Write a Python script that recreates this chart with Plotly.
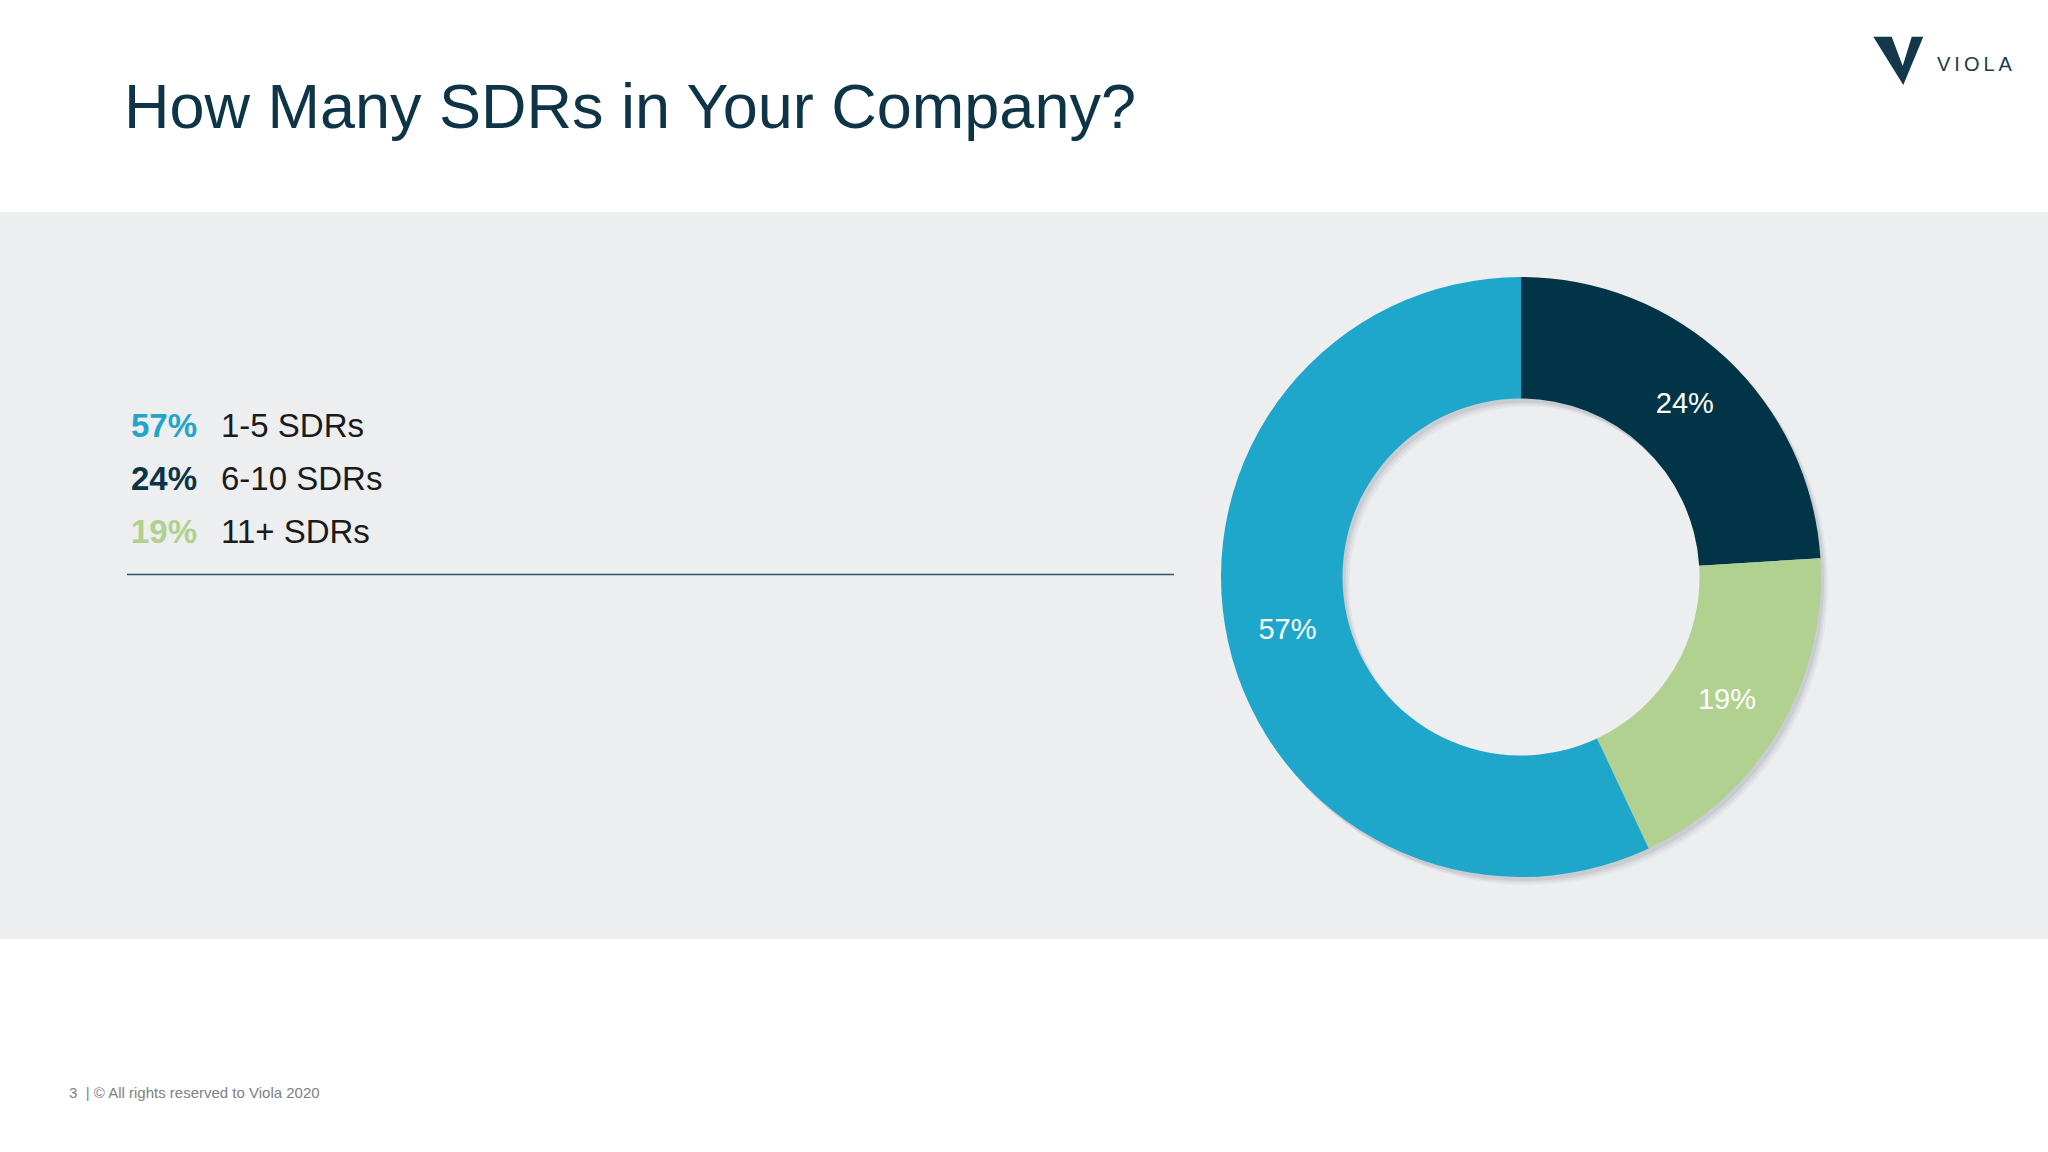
import plotly.graph_objects as go

# ---- data ----
categories = ["1-5 SDRs", "6-10 SDRs", "11+ SDRs"]
shares = [57, 24, 19]
pct_labels = ["57%", "24%", "19%"]
slice_colors = ["#1EA7CA", "#023448", "#B0D190"]
legend_pct_colors = ["#23A5C9", "#0B3447", "#AFD08E"]

title_text = "How Many SDRs in Your Company?"
footer_text = "3  | \u00a9 All rights reserved to Viola 2020"

W, H = 2048, 1152


def px(x):
    return x / W


def py(y):
    return 1 - y / H


FONT = "Liberation Sans, Arial, sans-serif"

fig = go.Figure()

# donut geometry (pixels)
cx, cy, R = 1521, 577, 300
hole = 0.595

# soft drop shadow layers
for dx, dy, a in [(7, 8, 0.045), (5, 6, 0.06), (3, 4, 0.08)]:
    fig.add_trace(go.Pie(
        values=[1], labels=["shadow"], hole=hole, sort=False,
        marker=dict(colors=[f"rgba(40,50,60,{a})"], line=dict(width=0)),
        textinfo="none", hoverinfo="skip", showlegend=False,
        domain=dict(x=[px(cx - R + dx), px(cx + R + dx)],
                    y=[py(cy + R + dy), py(cy - R + dy)]),
    ))

# order clockwise from 12 o'clock: 24%, 19%, 57%
order = [1, 2, 0]
fig.add_trace(go.Pie(
    labels=[categories[i] for i in order],
    values=[shares[i] for i in order],
    text=[pct_labels[i] for i in order],
    textinfo="text",
    textposition="inside",
    insidetextorientation="horizontal",
    textfont=dict(family=FONT, size=29, color="white"),
    marker=dict(colors=[slice_colors[i] for i in order], line=dict(width=0)),
    hole=hole, sort=False, direction="clockwise", rotation=0,
    showlegend=False, hoverinfo="label+percent",
    domain=dict(x=[px(cx - R), px(cx + R)], y=[py(cy + R), py(cy - R)]),
))

shapes = [
    # gray band
    dict(type="rect", xref="paper", yref="paper", x0=0, x1=1,
         y0=py(939), y1=py(212), fillcolor="#ECEEF0", line=dict(width=0),
         layer="below"),
    # divider line
    dict(type="line", xref="paper", yref="paper", x0=px(127), x1=px(1174),
         y0=py(574.5), y1=py(574.5), line=dict(color="#2F5568", width=1.5)),
]

# V logo
vpts = [(1873.3, 36.7), (1891.7, 36.7), (1902.7, 66), (1911.7, 36.7),
        (1923.3, 36.7), (1903.3, 85)]
path = "M " + " L ".join(f"{px(x)},{py(y)}" for x, y in vpts) + " Z"
shapes.append(dict(type="path", xref="paper", yref="paper", path=path,
                   fillcolor="#14384B", line=dict(width=0)))

annotations = [
    dict(text=title_text, x=px(122), y=py(106), xref="paper", yref="paper",
         xanchor="left", yanchor="middle", showarrow=False,
         font=dict(family=FONT, size=63, color="#0E3447")),
    dict(text="\u2009".join("VIOLA"), x=px(1935), y=py(64), xref="paper",
         yref="paper", xanchor="left", yanchor="middle", showarrow=False,
         font=dict(family=FONT, size=20, color="#1F3A4D")),
    dict(text=footer_text, x=px(67), y=py(1092), xref="paper", yref="paper",
         xanchor="left", yanchor="middle", showarrow=False,
         font=dict(family=FONT, size=15, color="#808080")),
]

row_y = [425, 478, 531]
for i in range(len(categories)):
    annotations.append(dict(
        text=f"<b>{pct_labels[i]}</b>", x=px(129), y=py(row_y[i]),
        xref="paper", yref="paper", xanchor="left", yanchor="middle",
        showarrow=False,
        font=dict(family=FONT, size=33, color=legend_pct_colors[i])))
    annotations.append(dict(
        text=categories[i], x=px(219), y=py(row_y[i]),
        xref="paper", yref="paper", xanchor="left", yanchor="middle",
        showarrow=False, font=dict(family=FONT, size=33, color="#1A1A1A")))

fig.update_layout(
    width=W, height=H,
    margin=dict(l=0, r=0, t=0, b=0),
    paper_bgcolor="white", plot_bgcolor="white",
    shapes=shapes, annotations=annotations,
    showlegend=False,
)

fig.write_html("out.html",
               config={"displayModeBar": False},
               post_script="document.body.style.margin='0';"
                           "document.body.style.padding='0';")
